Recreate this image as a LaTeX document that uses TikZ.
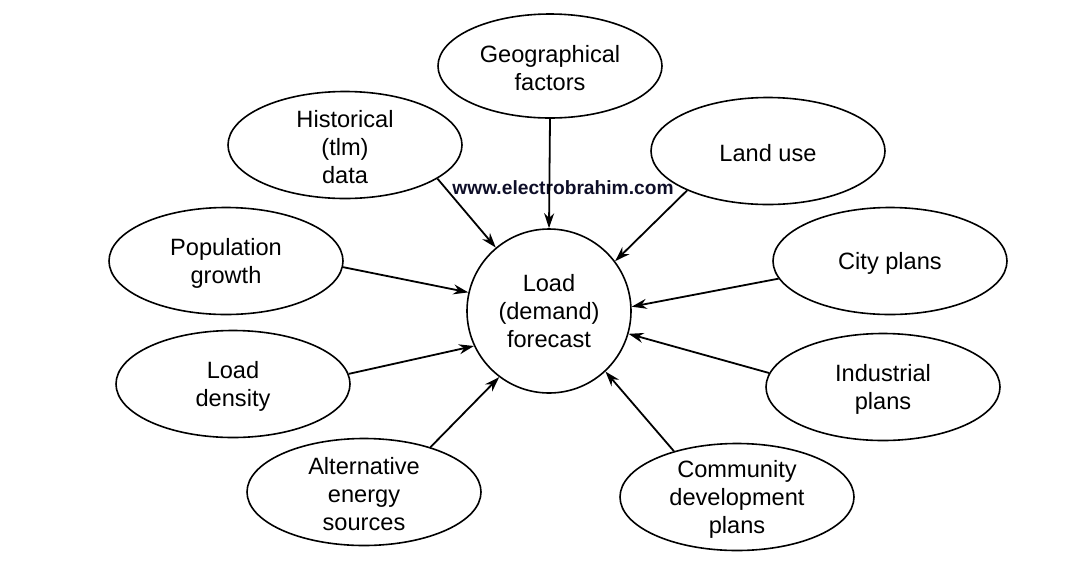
\documentclass[tikz,border=0pt]{standalone}
\usepackage{fontspec}
\setmainfont{Liberation Sans}
\usetikzlibrary{shapes.geometric,arrows.meta}
\begin{document}
\begin{tikzpicture}[x=1pt,y=-1pt,
  oval/.style={ellipse,draw,line width=1.6pt,minimum width=234pt,minimum height=107pt,inner sep=0pt},
  txt/.style={align=center,inner sep=0pt,yshift=-2.5pt,font=\fontsize{23.6}{28}\selectfont},
  hub/.style={circle,draw,line width=1.6pt,minimum size=164pt,inner sep=0pt,align=center,
    font=\fontsize{23.6}{28}\selectfont},
  feed/.style={line width=1.8pt,-{Stealth[length=15pt,width=10pt]}},
  wmark/.style={font=\bfseries\fontsize{19.2}{22}\selectfont,text={rgb,255:red,14;green,14;blue,40}}]
\useasboundingbox (0,0) rectangle (1069,566);
\node[hub] (c) at (549,311) {Load\\(demand)\\forecast};
\node[oval,minimum width=224pt,minimum height=104pt,label={[txt]center:Geographical\\factors}] (geo) at (550,66) {};
\node[oval,label={[txt]center:Historical\\(tlm)\\data}] (hist) at (345,145) {};
\node[oval,label={[txt]center:Land use}] (land) at (768,151) {};
\node[oval,label={[txt]center:Population\\growth}] (pop) at (226,261) {};
\node[oval,label={[txt]center:City plans}] (city) at (890,261) {};
\node[oval,label={[txt]center:Load\\density}] (dens) at (233,384) {};
\node[oval,label={[txt]center:Industrial\\plans}] (ind) at (883,387) {};
\node[oval,label={[txt]center:Alternative\\energy\\sources}] (alt) at (364,492) {};
\node[oval,label={[txt]center:Community\\development\\plans}] (com) at (737,497) {};
\node[wmark] (wm) at (563,188) {www.electrobrahim.com};
\draw[feed] (geo.-90) -- (c.90);
\draw[feed] (hist.-20) -- (c.130);
\draw[feed] (land.206) -- (c.37);
\draw[feed] (pop.-3.4) -- (c.167);
\draw[feed] (city.189.5) -- (c.3.3);
\draw[feed] (dens.5.9) -- (c.205);
\draw[feed] (ind.173) -- (c.-16);
\draw[feed] (alt.34.8) -- (c.233.5);
\draw[feed] (com.144.4) -- (c.-47.3);
\end{tikzpicture}
\end{document}
